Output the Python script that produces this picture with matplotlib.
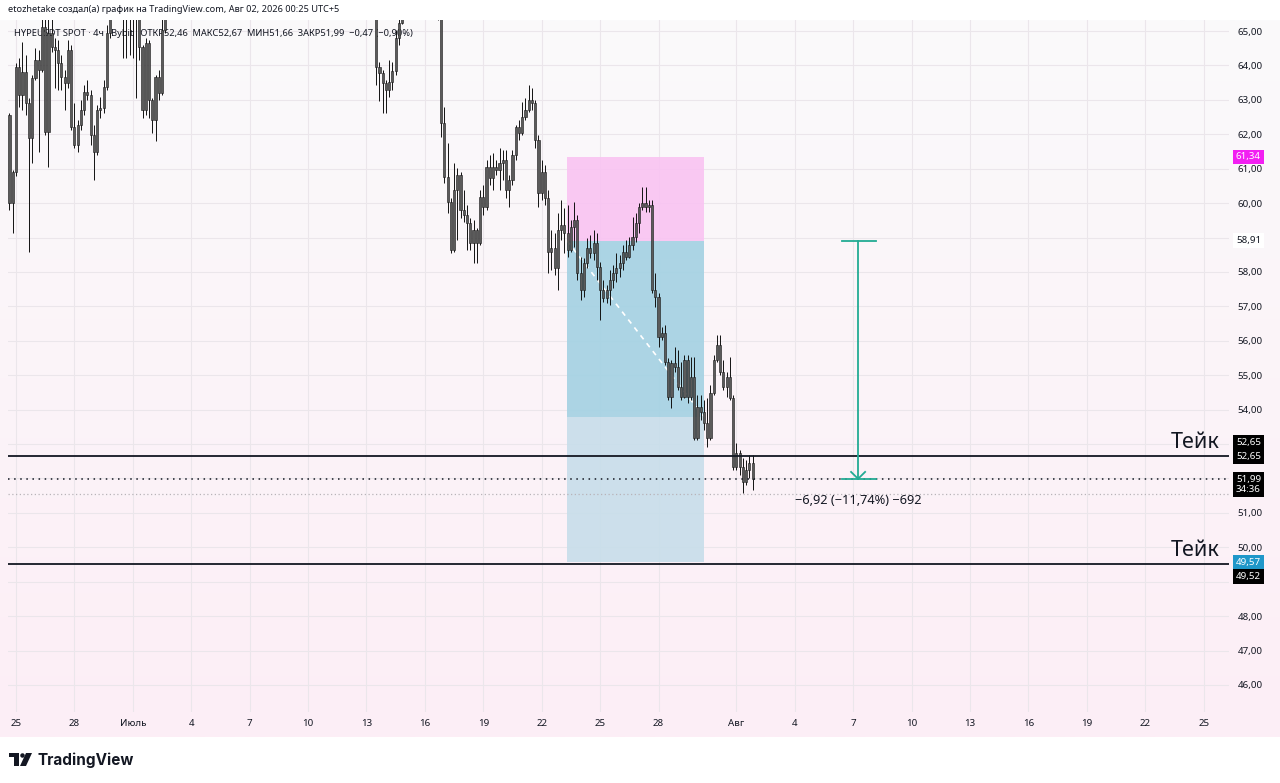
import numpy as np
import pandas as pd
import matplotlib
matplotlib.use('Agg')
import matplotlib.pyplot as plt
import matplotlib.dates as mdates
from matplotlib.patches import Rectangle, Polygon, Ellipse
from matplotlib.colors import LinearSegmentedColormap

plt.rcParams['font.family'] = ['Noto Sans', 'DejaVu Sans']

# HYPEUSDT 4h candles from 2026-06-24 16:00; nan = above the visible range
first_open = 62.56
closes = [60.00, 60.90, 63.95, 63.14, 63.81, 62.91, 61.89, 63.63, 64.16, 63.87,
          65.12, 62.07, 64.94, 64.53, 64.45, 64.07, 63.66, 63.49, 64.45, 62.21,
          61.69, 62.27, 62.70, 63.23, 63.14, 61.98, 61.48, 62.70, 62.76, 63.37,
          64.94, 65.60, 65.90, 66.10, 65.80, 65.70, 65.60, 65.75, 65.50, 65.40,
          64.53, 62.70, 64.65, 63.00, 62.41, 63.66, 63.20, 65.03, 65.70] + [np.nan] * 63 + [
          65.90, 63.95, 63.78, 63.49, 63.29, 63.52, 63.84, 64.80, 65.23, 65.70] + [np.nan] * 10 + [
          65.40, 62.33, 60.76, 60.03, 58.64, 60.38, 60.82, 59.80, 59.65, 59.42,
          58.84, 59.22, 58.84, 60.18, 59.89, 61.05, 60.73, 61.05, 60.96, 61.16,
          61.25, 60.38, 60.67, 61.40, 62.21, 62.04, 62.50, 62.70, 63.00, 62.91,
          61.83, 60.29, 60.90, 60.15, 58.58, 58.70, 58.11, 59.22, 59.36, 59.13,
          58.64, 59.31, 59.51, 57.97, 57.48, 58.26, 58.70, 58.55, 58.84, 58.14,
          57.48, 57.24, 57.48, 57.77, 57.97, 58.11, 58.26, 58.58, 58.43, 58.78,
          59.01, 59.42, 59.89, 60.00, 59.89, 59.94, 57.48, 57.27, 56.11, 56.23,
          55.38, 54.37, 55.35, 55.24, 54.66, 54.37, 55.44, 54.37, 54.95, 53.18,
          54.08, 53.93, 53.61, 53.18, 54.48, 55.44, 55.88, 55.09, 54.66, 54.95,
          54.34, 52.33, 52.74, 52.33, 51.90, 52.25, 52.46, 51.99]
highs = [62.62, 60.96, 64.07, 64.22, 64.68, 64.30, 63.05, 63.72, 64.51, 64.45,
         65.40, 65.40, 65.40, 65.40, 64.80, 64.74, 64.30, 63.87, 64.74, 64.59,
         62.91, 62.41, 63.00, 63.43, 63.58, 63.29, 62.27, 62.85, 63.08, 63.58,
         65.17, 65.90, 66.20, 66.40, 66.30, 66.10, 66.00, 66.10, 65.90, 65.80,
         65.50, 64.59, 64.80, 64.74, 63.05, 63.72, 63.87, 65.40, 66.00] + [np.nan] * 63 + [
         66.30, 66.20, 64.10, 63.87, 63.58, 64.16, 64.10, 65.03, 65.60, 66.00] + [np.nan] * 10 + [
         65.80, 65.50, 62.79, 61.75, 60.15, 61.16, 61.02, 60.90, 60.38, 59.94,
         59.57, 59.51, 59.28, 60.38, 60.53, 61.25, 61.40, 61.46, 61.25, 61.60,
         61.54, 61.54, 60.82, 61.54, 62.27, 62.41, 62.94, 63.05, 63.43, 63.34,
         63.00, 61.98, 61.25, 61.11, 60.38, 59.22, 59.13, 59.71, 60.09, 59.86,
         59.94, 59.51, 60.03, 59.65, 58.43, 58.40, 58.99, 59.07, 59.22, 59.13,
         58.29, 57.77, 57.62, 58.06, 58.20, 58.55, 58.49, 58.78, 58.93, 59.01,
         59.60, 59.71, 60.00, 60.47, 60.47, 60.09, 60.09, 57.97, 57.39, 56.40,
         56.46, 55.50, 55.44, 55.82, 55.73, 55.38, 55.59, 55.59, 55.53, 55.53,
         54.42, 54.42, 54.28, 54.34, 54.72, 55.59, 56.17, 56.17, 55.44, 55.09,
         55.53, 54.42, 53.03, 52.83, 52.59, 52.54, 52.68, 52.67]
lows = [59.80, 59.13, 60.80, 62.79, 62.70, 62.56, 58.58, 61.16, 63.58, 61.48,
        63.81, 61.98, 61.05, 64.40, 63.34, 63.29, 63.29, 62.70, 63.34, 62.12,
        61.60, 61.48, 62.12, 62.56, 63.00, 61.69, 60.67, 61.40, 62.47, 62.62,
        63.29, 64.80, 65.50, 65.70, 65.45, 64.22, 64.22, 64.30, 64.22, 63.05,
        64.16, 62.47, 62.56, 62.47, 62.04, 61.80, 63.00, 63.14, 64.95] + [np.nan] * 63 + [
        65.50, 63.43, 62.97, 62.62, 62.62, 63.08, 63.29, 63.72, 64.59, 65.20] + [np.nan] * 10 + [
        65.33, 61.92, 60.58, 59.71, 58.55, 58.58, 58.93, 59.57, 59.45, 58.64,
        58.64, 58.26, 58.26, 58.78, 59.65, 59.80, 60.53, 60.38, 60.82, 60.38,
        60.67, 60.15, 59.89, 60.53, 61.25, 61.83, 61.98, 62.41, 62.65, 62.70,
        61.60, 59.89, 60.09, 59.94, 57.97, 58.06, 57.91, 57.48, 58.93, 58.55,
        58.43, 58.58, 58.72, 57.77, 57.18, 57.27, 58.11, 58.40, 58.35, 57.77,
        56.60, 57.13, 57.10, 57.04, 57.53, 57.71, 57.85, 58.06, 58.35, 58.40,
        58.64, 58.87, 59.13, 59.80, 59.74, 59.74, 57.39, 56.98, 55.82, 56.02,
        55.30, 54.28, 54.05, 55.09, 54.57, 54.28, 54.34, 54.19, 54.28, 53.12,
        53.12, 53.70, 53.41, 52.91, 53.12, 54.42, 55.38, 55.01, 54.57, 54.37,
        54.28, 52.25, 52.25, 52.10, 51.58, 51.81, 52.01, 51.66]
start = '2026-06-24 16:00'

tick_dates = ['2026-06-25', '2026-06-28', '2026-07-01', '2026-07-04', '2026-07-07',
              '2026-07-10', '2026-07-13', '2026-07-16', '2026-07-19', '2026-07-22',
              '2026-07-25', '2026-07-28', '2026-08-01', '2026-08-04', '2026-08-07',
              '2026-08-10', '2026-08-13', '2026-08-16', '2026-08-19', '2026-08-22',
              '2026-08-25']
tick_labels = ['25', '28', 'Июль', '4', '7', '10', '13', '16', '19', '22', '25', '28',
               'Авг', '4', '7', '10', '13', '16', '19', '22', '25']
month_labels = ['Июль', 'Авг']
price_ticks = list(range(46, 66))
covered_ticks = [59, 53, 52, 49]   # hidden behind the coloured price boxes

# short position tool
stop_price = 61.34
entry_price = 58.91
target_price = 49.57
pos_start = '2026-07-23 07:00'
pos_end = '2026-07-30 08:00'
pos_reached = 53.79

take_levels = [52.65, 49.52]
last_close = 51.99
timer = '34:36'
day_low_line = 51.56

measure_time = '2026-08-07 06:00'
measure_label = '−6,92 (−11,74%) −692'

header = 'etozhetake создал(а) график на TradingView.com, Авг 02, 2026 00:25 UTC+5'
legend = 'HYPEUSDT SPOT · 4ч · Bybit   ОТКР52,46  МАКС52,67  МИН51,66  ЗАКР51,99  −0,47 (−0,90%)'

W, H = 1280, 783
fig = plt.figure(figsize=(W / 100, H / 100), dpi=100)
fig.patch.set_facecolor('white')


def fx(x):
    return x / W


def fy(y):
    return 1 - y / H


def fmt(p):
    return f'{p:.2f}'.replace('.', ',')


# background gradient
bg = fig.add_axes([0, fy(737), 1, (737 - 20) / H])
bg.imshow(np.linspace(0, 1, 256).reshape(-1, 1), aspect='auto', extent=[0, 1, 0, 1],
          cmap=LinearSegmentedColormap.from_list('bg', ['#fafafb', '#fdeef6']))
bg.set_axis_off()

ax = fig.add_axes([fx(8), fy(712), (1229 - 8) / W, (712 - 20) / H])
ax.set_facecolor('none')
for s in ax.spines.values():
    s.set_visible(False)

day0 = mdates.date2num(pd.Timestamp('2026-06-25'))
ax.set_xlim(day0 - 0.41, day0 + 62.3)
ax.set_ylim(45.215, 65.32)

tick_x = mdates.date2num(pd.to_datetime(tick_dates))
for t in tick_x:
    ax.axvline(t, color='#ebe6eb', lw=0.8, zorder=0.3)
for p in price_ticks:
    ax.axhline(p, color='#ebe6eb', lw=0.8, zorder=0.3)

ax.set_xticks(tick_x)
ax.set_xticklabels(tick_labels)
ax.tick_params(axis='x', length=0, pad=5, labelsize=7, labelcolor='#131722')
for lab in ax.get_xticklabels():
    if lab.get_text() in month_labels:
        lab.set_fontweight('bold')
ax.yaxis.tick_right()
ax.set_yticks(price_ticks)
ax.set_yticklabels(['' if p in covered_ticks else fmt(p) for p in price_ticks])
ax.tick_params(axis='y', length=0, pad=6, labelsize=7, labelcolor='#131722')

# candles
c = np.array(closes, dtype=float)
hi = np.array(highs, dtype=float)
lo = np.array(lows, dtype=float)
o = np.concatenate([[first_open], c[:-1]])
times = mdates.date2num(pd.date_range(start, periods=len(c), freq='4h'))
ok = ~np.isnan(hi)
ax.vlines(times[ok], lo[ok], hi[ok], color='#111111', lw=0.7, zorder=4)
okb = ~np.isnan(o) & ~np.isnan(c)
bottom = np.minimum(o, c)[okb]
height = np.maximum(np.abs(c - o)[okb], 0.03)
ax.bar(times[okb], height, bottom=bottom, width=0.11, color='#5b5b5b',
       edgecolor='#161616', lw=0.4, zorder=4.5)

# position tool
ps = mdates.date2num(pd.Timestamp(pos_start))
pe = mdates.date2num(pd.Timestamp(pos_end))
ax.add_patch(Rectangle((ps, entry_price), pe - ps, stop_price - entry_price,
                       fc='#f9c4f2', ec='none', alpha=0.92, zorder=0.5))
ax.add_patch(Rectangle((ps, pos_reached), pe - ps, entry_price - pos_reached,
                       fc='#a5d2e3', ec='none', alpha=0.92, zorder=0.5))
ax.add_patch(Rectangle((ps, target_price), pe - ps, pos_reached - target_price,
                       fc='#c8deea', ec='none', alpha=0.92, zorder=0.5))
ax.plot([ps, pe], [entry_price, pos_reached], color='white', lw=1.2,
        ls=(0, (3, 3)), zorder=2)

# horizontal levels
for lvl in take_levels:
    ax.axhline(lvl, color='#131722', lw=1.3, zorder=5)
ax.axhline(last_close, color='#131722', lw=1.1, ls=(0, (1, 3)), zorder=5)
ax.axhline(day_low_line, color='#b8b3b8', lw=0.9, ls=(0, (1, 2)), zorder=3)

for lvl in take_levels:
    ax.annotate('Тейк', xy=(0.9926, lvl), xycoords=ax.get_yaxis_transform(),
                xytext=(0, 8), textcoords='offset pixels', ha='right', va='baseline',
                fontsize=15.5, color='#131722', zorder=6)

# measure tool
mt = mdates.date2num(pd.Timestamp(measure_time))
teal = '#22ab94'
ax.plot([mt, mt], [entry_price, last_close], color=teal, lw=1.3, zorder=6)
ax.plot([mt - 0.82, mt + 0.92], [entry_price, entry_price], color=teal, lw=1.3, zorder=6)
ax.plot([mt - 0.82, mt + 0.92], [last_close, last_close], color=teal, lw=1.3, zorder=6)
ax.plot([mt - 0.36, mt, mt + 0.36], [last_close + 0.2, last_close, last_close + 0.2],
        color=teal, lw=1.3, zorder=6)
ax.annotate(measure_label, xy=(mt, last_close), xytext=(0, -22), textcoords='offset pixels',
            ha='center', va='center', fontsize=9.2, color='#131722', zorder=6)

# legend line (under candles)
ax.text(6 / (1229 - 8), 1 - 13 / 692, legend, transform=ax.transAxes,
        fontsize=6.7, color='#131722', va='center', ha='left', zorder=1)

# price axis labels
blend = ax.get_yaxis_transform()


def price_box(text, price, fc, tc='white', dy=0):
    ax.annotate(text, xy=(1, price), xycoords=blend, xytext=(7, dy),
                textcoords='offset pixels', ha='left', va='center', fontsize=7,
                color=tc, linespacing=1.15, annotation_clip=False, zorder=10,
                bbox=dict(boxstyle='square,pad=0.3', fc=fc, ec='none'))


price_box(fmt(stop_price), stop_price, '#f21ff2')
price_box(fmt(entry_price), entry_price, '#ffffff', tc='#131722')
price_box(fmt(take_levels[0]), take_levels[0], '#000000', dy=14)
price_box(fmt(take_levels[0]), take_levels[0], '#000000')
price_box(fmt(last_close) + '\n' + timer, last_close, '#000000', dy=-6)
price_box(fmt(target_price), target_price, '#1f97c9')
price_box(fmt(take_levels[1]), take_levels[1], '#000000', dy=-13)

# header
fig.text(fx(8), fy(10), header, fontsize=6.6, color='#131722', va='center', ha='left')

# TradingView logo
dark = '#131722'
fig.add_artist(Rectangle((fx(9), fy(757)), 10 / W, 4 / H, transform=fig.transFigure,
                         fc=dark, ec='none'))
fig.add_artist(Rectangle((fx(14), fy(766)), 5 / W, 13 / H, transform=fig.transFigure,
                         fc=dark, ec='none'))
fig.add_artist(Ellipse((fx(22.5), fy(755.5)), 4.5 / W, 4.5 / H, transform=fig.transFigure,
                       fc=dark, ec='none'))
fig.add_artist(Polygon([(fx(26), fy(753)), (fx(32), fy(753)), (fx(26), fy(766)),
                        (fx(20), fy(766))], closed=True, transform=fig.transFigure,
                       fc=dark, ec='none'))
fig.text(fx(37), fy(760), 'TradingView', fontsize=11, fontweight='bold',
         family=['Inter', 'DejaVu Sans'], color=dark, va='center', ha='left')

fig.savefig('out.png', dpi=100)
